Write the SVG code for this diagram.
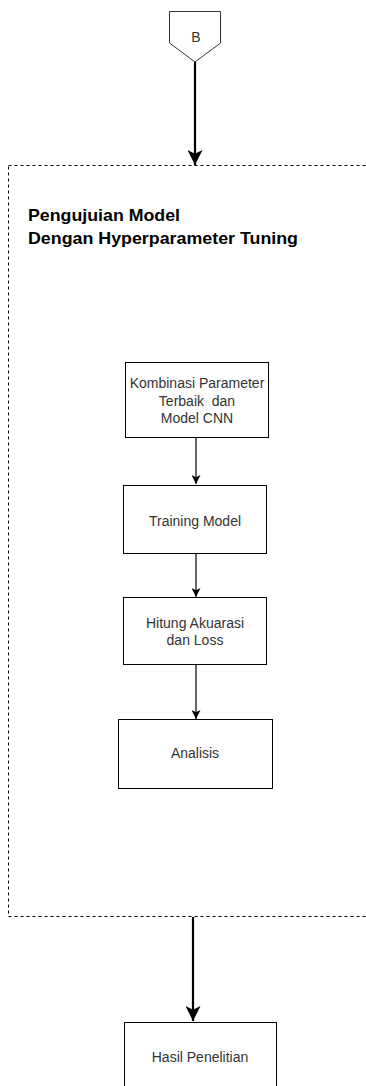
<svg xmlns="http://www.w3.org/2000/svg" width="366" height="1086" viewBox="0 0 366 1086">
<style>
  .box { fill: #ffffff; stroke: #000000; stroke-width: 1; }
  .lbl { font-family: "Liberation Sans", Arial, sans-serif; font-size: 14px; fill: #333333; text-anchor: middle; white-space: pre; }
  .title { font-family: "Liberation Sans", Arial, sans-serif; font-size: 16.5px; font-weight: bold; fill: #000000; }
  .thin { stroke: #000000; stroke-width: 1.2; fill: none; }
  .thick { stroke: #000000; stroke-width: 2.2; fill: none; }
  .frame { fill: none; stroke: #000000; stroke-width: 1; stroke-dasharray: 3 3; }
</style>
<defs>
  <marker id="ahThin" markerUnits="userSpaceOnUse" viewBox="0 0 10 10" refX="10" refY="5" markerWidth="9" markerHeight="9" orient="auto">
    <path d="M0,0 L10,5 L0,10 L2.5,5 Z" fill="#000000"/>
  </marker>
  <marker id="ahThick" markerUnits="userSpaceOnUse" viewBox="0 0 10 10" refX="10" refY="5" markerWidth="15" markerHeight="15" orient="auto">
    <path d="M0,0 L10,5 L0,10 L2.5,5 Z" fill="#000000"/>
  </marker>
</defs>
<rect width="366" height="1086" fill="#ffffff"/>

<g id="container">
  <rect class="frame" x="8.5" y="165.5" width="370" height="751"/>
  <text class="title" x="28" y="221" textLength="152" lengthAdjust="spacingAndGlyphs">Pengujuian Model</text>
  <text class="title" x="28" y="244" textLength="270" lengthAdjust="spacingAndGlyphs">Dengan Hyperparameter Tuning</text>
</g>

<g id="connectors">
  <line class="thick" x1="195" y1="62" x2="195" y2="165" marker-end="url(#ahThick)"/>
  <line class="thin" x1="196" y1="437" x2="196" y2="484" marker-end="url(#ahThin)"/>
  <line class="thin" x1="196" y1="553" x2="196" y2="597" marker-end="url(#ahThin)"/>
  <line class="thin" x1="196" y1="664" x2="196" y2="719" marker-end="url(#ahThin)"/>
  <line class="thick" x1="193" y1="917" x2="193" y2="1021" marker-end="url(#ahThick)"/>
</g>

<g id="offpage-B">
  <polygon points="169.5,11.5 220.5,11.5 220.5,43 195,62 169.5,43" fill="#ffffff" stroke="#333333" stroke-width="1"/>
  <text class="lbl" x="196" y="42">B</text>
</g>

<g id="kombinasi">
  <rect class="box" x="125.5" y="362.5" width="143" height="75"/>
  <text class="lbl" x="197" y="388">Kombinasi Parameter</text>
  <text class="lbl" x="197" y="406" xml:space="preserve">Terbaik  dan</text>
  <text class="lbl" x="197" y="423">Model CNN</text>
</g>

<g id="training">
  <rect class="box" x="123.5" y="485.5" width="143" height="68"/>
  <text class="lbl" x="195" y="526">Training Model</text>
</g>

<g id="hitung">
  <rect class="box" x="123.5" y="597.5" width="143" height="67"/>
  <text class="lbl" x="195" y="628">Hitung Akuarasi</text>
  <text class="lbl" x="195" y="645">dan Loss</text>
</g>

<g id="analisis">
  <rect class="box" x="118.5" y="719.5" width="154" height="69"/>
  <text class="lbl" x="195" y="758">Analisis</text>
</g>

<g id="hasil">
  <rect class="box" x="124.5" y="1022.5" width="152" height="80"/>
  <text class="lbl" x="200" y="1062">Hasil Penelitian</text>
</g>
</svg>
